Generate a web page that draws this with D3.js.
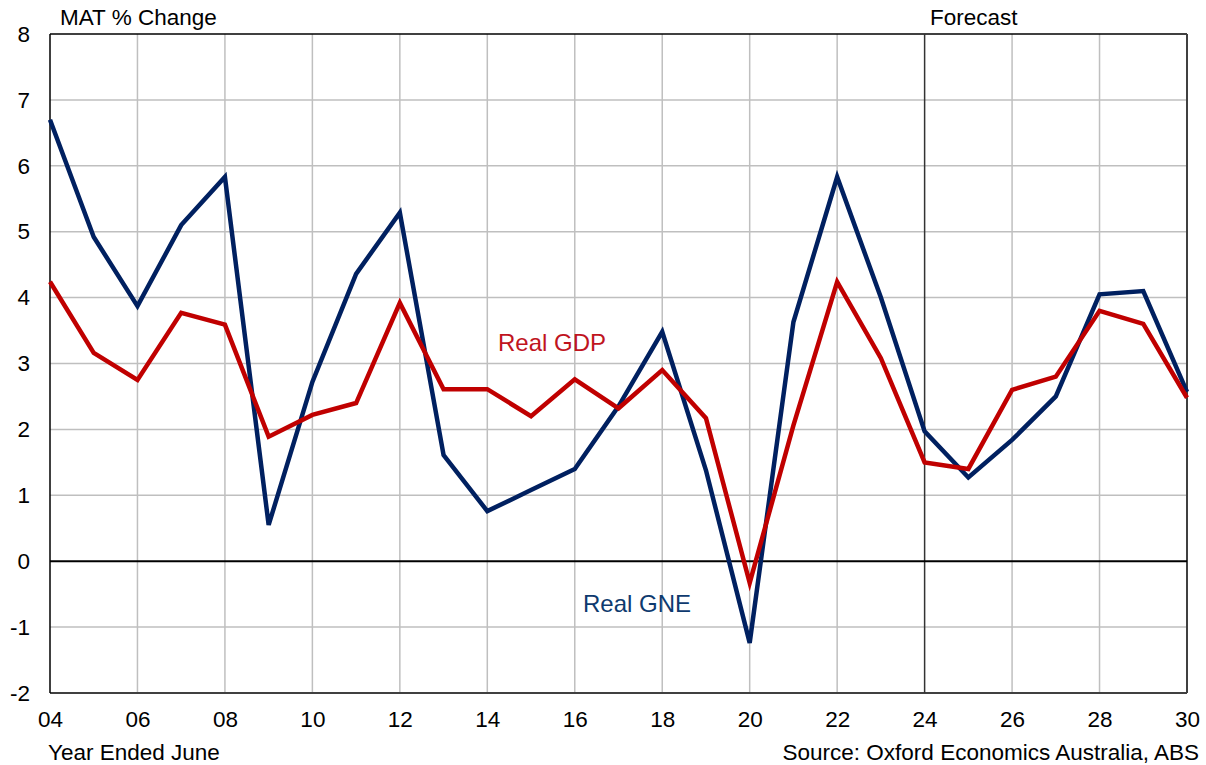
<!DOCTYPE html>
<html><head><meta charset="utf-8">
<script src="https://cdn.jsdelivr.net/npm/d3@7"></script>
<style>body{margin:0;background:#fff;}svg{display:block;font-family:"Liberation Sans",Arial,sans-serif;}</style>
</head><body><svg id="c" width="1206" height="765"></svg>
<script>
const years = [4,5,6,7,8,9,10,11,12,13,14,15,16,17,18,19,20,21,22,23,24,25,26,27,28,29,30];
const realGNE = [6.7,4.92,3.87,5.1,5.83,0.55,2.72,4.36,5.29,1.61,0.76,1.08,1.4,2.35,3.48,1.38,-1.24,3.63,5.83,4.0,1.97,1.27,1.84,2.5,4.05,4.1,2.57];
const realGDP = [4.24,3.16,2.75,3.77,3.59,1.89,2.22,2.4,3.92,2.61,2.61,2.2,2.76,2.32,2.9,2.17,-0.33,2.06,4.24,3.08,1.5,1.4,2.6,2.8,3.8,3.6,2.48];
const xTicks = [4,6,8,10,12,14,16,18,20,22,24,26,28,30];
const yTicks = [-2,-1,0,1,2,3,4,5,6,7,8];
const forecastYear = 24;

const svg = d3.select("#c");
const L=50,R=1187,T=34,B=693;
const x = d3.scaleLinear().domain([4,30]).range([L,R]);
const y = d3.scaleLinear().domain([-2,8]).range([B,T]);
const fmt = d => String(d).padStart(2,"0");
const FS = 22.5;

// grid
svg.append("g").selectAll("line").data(xTicks.filter(d=>d>4&&d<30&&d!==forecastYear)).join("line")
  .attr("x1",d=>x(d)).attr("x2",d=>x(d)).attr("y1",T).attr("y2",B)
  .attr("stroke","#bfbfbf").attr("stroke-width",1.5);
svg.append("g").selectAll("line").data(yTicks.filter(d=>d>-2&&d<8&&d!==0)).join("line")
  .attr("x1",L).attr("x2",R).attr("y1",d=>y(d)).attr("y2",d=>y(d))
  .attr("stroke","#bfbfbf").attr("stroke-width",1.5);

// borders
svg.append("line").attr("x1",L).attr("x2",R).attr("y1",T).attr("y2",T).attr("stroke","#000").attr("stroke-width",1.5);
svg.append("line").attr("x1",R).attr("x2",R).attr("y1",T).attr("y2",B).attr("stroke","#404040").attr("stroke-width",2);
svg.append("line").attr("x1",L).attr("x2",R).attr("y1",B).attr("y2",B).attr("stroke","#404040").attr("stroke-width",2);
svg.append("line").attr("x1",x(forecastYear)).attr("x2",x(forecastYear)).attr("y1",T).attr("y2",B).attr("stroke","#333").attr("stroke-width",1.5);
svg.append("line").attr("x1",L).attr("x2",R).attr("y1",y(0)).attr("y2",y(0)).attr("stroke","#000").attr("stroke-width",2);
svg.append("line").attr("x1",L).attr("x2",L).attr("y1",T).attr("y2",B).attr("stroke","#000").attr("stroke-width",1.5);

// axes labels
const yAxis = d3.axisLeft(y).tickValues(yTicks).tickSize(0).tickPadding(20).tickFormat(d=>String(d));
const gy = svg.append("g").attr("transform",`translate(${L},0)`).call(yAxis);
gy.select(".domain").remove();
gy.selectAll("text").attr("font-size",FS).attr("fill","#000").attr("font-family","Liberation Sans, Arial, sans-serif");

const xAxis = d3.axisBottom(x).tickValues(xTicks).tickSize(0).tickPadding(18).tickFormat(fmt);
const gx = svg.append("g").attr("transform",`translate(0,${B})`).call(xAxis);
gx.select(".domain").remove();
gx.selectAll("text").attr("font-size",FS).attr("fill","#000").attr("font-family","Liberation Sans, Arial, sans-serif");

// lines
const line = (arr) => d3.line().x((d,i)=>x(years[i])).y(d=>y(d))(arr);
svg.append("path").attr("d",line(realGNE)).attr("fill","none").attr("stroke","#002060").attr("stroke-width",4.5).attr("stroke-linejoin","miter");
svg.append("path").attr("d",line(realGDP)).attr("fill","none").attr("stroke","#C00000").attr("stroke-width",4.5).attr("stroke-linejoin","miter");

// texts
const txt=(s,xx,yy,opt={})=>svg.append("text").attr("x",xx).attr("y",yy).attr("font-size",opt.size||FS)
  .attr("fill",opt.fill||"#000").attr("text-anchor",opt.anchor||"start").text(s);
txt("MAT % Change",60,25);
txt("Forecast",930,25);
txt("Year Ended June",48,760);
txt("Source: Oxford Economics Australia, ABS",1199,760,{anchor:"end"});
txt("Real GDP",498,351,{size:24,fill:"#C0141E"});
txt("Real GNE",583,612,{size:24,fill:"#0E3A6E"});
</script></body></html>
